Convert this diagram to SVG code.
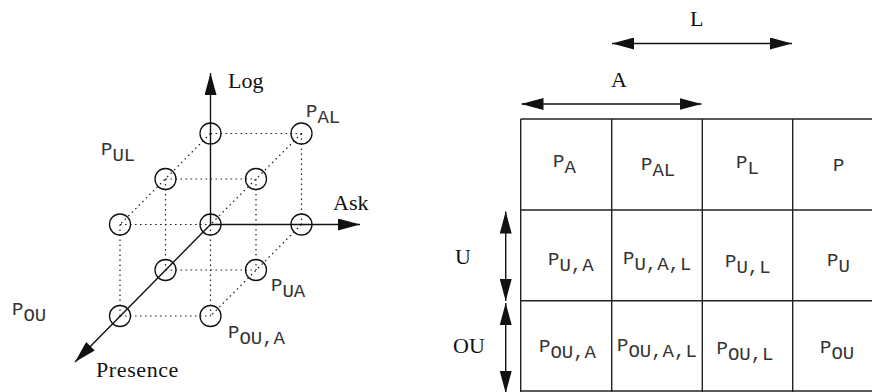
<svg xmlns="http://www.w3.org/2000/svg" width="872" height="392" viewBox="0 0 872 392">
<style>
.serif{font-family:"Liberation Serif","Times New Roman",serif;font-size:22px;fill:#111}
.mono{font-family:"Liberation Mono","Courier New",monospace;font-size:19px;fill:#333}
.dot{stroke:#222;stroke-width:1.2;stroke-dasharray:1.6 3.4;fill:none}
.axis{stroke:#111;stroke-width:1.4;fill:none}
.node{stroke:#111;stroke-width:1.3;fill:none}
.grid{stroke:#222;stroke-width:1.4;fill:none}
</style>
<defs>
<marker id="ah" viewBox="0 0 22 12" refX="22" refY="6" markerWidth="22" markerHeight="12" markerUnits="userSpaceOnUse" orient="auto-start-reverse">
<path d="M0,0 L22,6 L0,12 Z" fill="#111"/>
</marker>
</defs>

<!-- cube connectors -->
<g id="connectors">
<g class="dot">
<line x1="210.5" y1="133.5" x2="301.5" y2="133.5"/>
<line x1="165.5" y1="179" x2="256" y2="179"/>
<line x1="120" y1="224.5" x2="210.5" y2="224.5"/>
<line x1="165.5" y1="270" x2="256" y2="270"/>
<line x1="120" y1="316" x2="210.5" y2="316"/>
<line x1="301.5" y1="133.5" x2="301.5" y2="224.5"/>
<line x1="165.5" y1="179" x2="165.5" y2="270"/>
<line x1="120" y1="224.5" x2="120" y2="316"/>
<line x1="210.5" y1="224.5" x2="210.5" y2="316"/>
<line x1="256" y1="179" x2="256" y2="270"/>
<line x1="210.5" y1="133.5" x2="120" y2="224.5"/>
<line x1="301.5" y1="133.5" x2="210.5" y2="224.5"/>
<line x1="301.5" y1="224.5" x2="210.5" y2="316"/>
</g>
<g class="axis">
<line x1="210.5" y1="224.5" x2="210.5" y2="73" marker-end="url(#ah)"/>
<line x1="210.5" y1="224.5" x2="360" y2="224.5" marker-end="url(#ah)"/>
<line x1="210.5" y1="224.5" x2="75" y2="362" marker-end="url(#ah)"/>
</g>
<!-- table arrows -->
<g class="axis">
<line x1="612" y1="43.5" x2="792" y2="43.5" marker-start="url(#ah)" marker-end="url(#ah)"/>
<line x1="521.5" y1="104" x2="701.5" y2="104" marker-start="url(#ah)" marker-end="url(#ah)"/>
<line x1="505.7" y1="211.5" x2="505.7" y2="301" marker-start="url(#ah)" marker-end="url(#ah)"/>
<line x1="505.7" y1="303" x2="505.7" y2="393" marker-start="url(#ah)" marker-end="url(#ah)"/>
</g>
</g>

<!-- cube nodes -->
<g id="n-log"><circle class="node" cx="210.5" cy="133.5" r="10.5"/></g>
<g id="n-al"><circle class="node" cx="301.5" cy="133.5" r="10.5"/></g>
<g id="n-ul"><circle class="node" cx="165.5" cy="179" r="10.5"/></g>
<g id="n-ual"><circle class="node" cx="256" cy="179" r="10.5"/></g>
<g id="n-ou-l"><circle class="node" cx="120" cy="224.5" r="10.5"/></g>
<g id="n-origin"><circle class="node" cx="210.5" cy="224.5" r="10.5"/></g>
<g id="n-ask"><circle class="node" cx="301.5" cy="224.5" r="10.5"/></g>
<g id="n-u"><circle class="node" cx="165.5" cy="270" r="10.5"/></g>
<g id="n-ua"><circle class="node" cx="256" cy="270" r="10.5"/></g>
<g id="n-ou"><circle class="node" cx="120" cy="316" r="10.5"/></g>
<g id="n-oua"><circle class="node" cx="210.5" cy="316" r="10.5"/></g>

<!-- cube labels -->
<g id="labels-left">
<text class="serif" x="228" y="88">Log</text>
<text class="serif" x="333" y="210">Ask</text>
<text class="serif" x="96" y="377" letter-spacing="0.6">Presence</text>
<text class="mono" x="306" y="117">P<tspan dy="6">AL</tspan></text>
<text class="mono" x="101" y="155">P<tspan dy="6">UL</tspan></text>
<text class="mono" x="271" y="291">P<tspan dy="6">UA</tspan></text>
<text class="mono" x="228" y="338">P<tspan dy="6">OU,A</tspan></text>
<text class="mono" x="12" y="315">P<tspan dy="6">OU</tspan></text>
</g>

<!-- table -->
<g id="table">
<g class="grid">
<line x1="520.7" y1="119" x2="872" y2="119"/>
<line x1="520.7" y1="210" x2="872" y2="210"/>
<line x1="520.7" y1="300.7" x2="872" y2="300.7"/>
<line x1="520.7" y1="391" x2="872" y2="391"/>
<line x1="520.7" y1="119" x2="520.7" y2="392"/>
<line x1="611.7" y1="119" x2="611.7" y2="392"/>
<line x1="702.3" y1="119" x2="702.3" y2="392"/>
<line x1="792.7" y1="119" x2="792.7" y2="392"/>
</g>
<text class="serif" x="690" y="26">L</text>
<text class="serif" x="611" y="87">A</text>
<text class="serif" x="455" y="264">U</text>
<text class="serif" x="453" y="353">OU</text>
</g>
<g id="c-a"><text class="mono" x="553" y="167">P<tspan dy="6">A</tspan></text></g>
<g id="c-al"><text class="mono" x="641" y="170">P<tspan dy="6">AL</tspan></text></g>
<g id="c-l"><text class="mono" x="736" y="167.5">P<tspan dy="6">L</tspan></text></g>
<g id="c-p"><text class="mono" x="833" y="170.5">P</text></g>
<g id="c-ua"><text class="mono" x="548" y="265">P<tspan dy="6">U,A</tspan></text></g>
<g id="c-ual"><text class="mono" x="623" y="263.5">P<tspan dy="6">U,A,L</tspan></text></g>
<g id="c-ul"><text class="mono" x="725" y="266.5">P<tspan dy="6">U,L</tspan></text></g>
<g id="c-u"><text class="mono" x="827" y="266">P<tspan dy="6">U</tspan></text></g>
<g id="c-oua"><text class="mono" x="539" y="351.5">P<tspan dy="6">OU,A</tspan></text></g>
<g id="c-oual"><text class="mono" x="617" y="350.5">P<tspan dy="6">OU,A,L</tspan></text></g>
<g id="c-oul"><text class="mono" x="716.5" y="354">P<tspan dy="6">OU,L</tspan></text></g>
<g id="c-ou"><text class="mono" x="820" y="352.5">P<tspan dy="6">OU</tspan></text></g>
</svg>
